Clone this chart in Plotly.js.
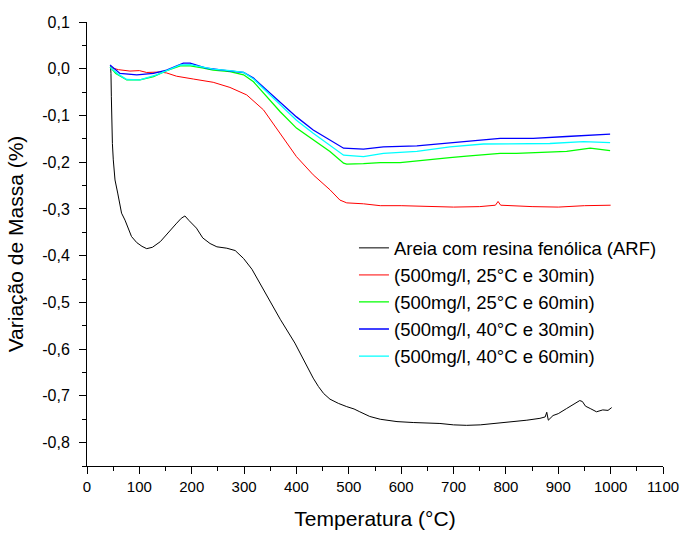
<!DOCTYPE html>
<html>
<head>
<meta charset="utf-8">
<script src="https://cdn.plot.ly/plotly-3.0.1.min.js"></script>
<style>html,body{margin:0;padding:0;background:#fff;}#chart{width:699px;height:533px;}</style>
</head>
<body>
<div id="chart"></div>
<script>
// ---- data ----
const seriesNames = [
  "Areia com resina fenólica (ARF)",
  "(500mg/l, 25°C e 30min)",
  "(500mg/l, 25°C e 60min)",
  "(500mg/l, 40°C e 30min)",
  "(500mg/l, 40°C e 60min)"
];

const arfT = [45, 45.8, 46.5, 47.2, 48.5, 50.2, 53.5, 58.6, 66, 72.6, 85, 95, 105, 114, 125, 140, 155, 170, 180, 187, 195, 209, 221, 235, 248, 267, 283, 299, 315, 340, 369, 397, 420, 432, 442, 452, 464, 480, 496, 510, 521, 540, 560, 575, 592, 623, 650, 674, 700, 725, 751, 780, 814, 840, 865, 875, 878, 881, 890, 900, 916, 930, 941, 946, 952, 961, 973, 985, 995, 1002];
const arfV = [0.005, -0.01, -0.06, -0.125, -0.16, -0.195, -0.238, -0.266, -0.309, -0.324, -0.359, -0.372, -0.38, -0.385, -0.382, -0.37, -0.35, -0.332, -0.32, -0.315, -0.325, -0.341, -0.362, -0.374, -0.381, -0.384, -0.389, -0.406, -0.429, -0.48, -0.536, -0.587, -0.637, -0.662, -0.68, -0.695, -0.707, -0.716, -0.723, -0.728, -0.734, -0.744, -0.75, -0.752, -0.755, -0.757, -0.758, -0.759, -0.762, -0.763, -0.762, -0.759, -0.755, -0.752, -0.748, -0.745, -0.735, -0.752, -0.742, -0.738, -0.727, -0.718, -0.71, -0.712, -0.722, -0.727, -0.734, -0.73, -0.731, -0.725];

const redT = [44, 60, 82, 100, 114, 139, 152, 171, 203, 241, 273, 305, 337, 369, 400, 432, 464, 483, 496, 528, 560, 600, 650, 700, 750, 780, 785, 790, 850, 900, 950, 1000];
const redV = [0.003, -0.002, -0.005, -0.004, -0.008, -0.007, -0.009, -0.016, -0.022, -0.029, -0.04, -0.056, -0.088, -0.138, -0.188, -0.227, -0.259, -0.281, -0.287, -0.289, -0.293, -0.293, -0.294, -0.296, -0.295, -0.292, -0.284, -0.292, -0.295, -0.296, -0.293, -0.292];

const greenT = [44, 55, 76, 101, 127, 152, 178, 197, 220, 241, 273, 299, 318, 343, 369, 400, 432, 464, 490, 496, 528, 560, 598, 630, 661, 693, 725, 757, 789, 820, 852, 884, 916, 961, 999];
const greenV = [0.004, -0.01, -0.024, -0.024, -0.017, -0.004, 0.006, 0.006, 0.002, -0.003, -0.006, -0.013, -0.028, -0.06, -0.092, -0.127, -0.152, -0.177, -0.202, -0.204, -0.203, -0.201, -0.201, -0.197, -0.194, -0.19, -0.187, -0.184, -0.181, -0.181, -0.18, -0.178, -0.177, -0.17, -0.175];

const blueT = [44, 63, 95, 127, 152, 184, 197, 229, 267, 299, 318, 343, 369, 400, 432, 464, 490, 528, 566, 630, 693, 757, 789, 852, 916, 960, 999];
const blueV = [0.008, -0.01, -0.013, -0.01, -0.003, 0.012, 0.012, 0.001, -0.004, -0.008, -0.02, -0.045, -0.07, -0.103, -0.131, -0.152, -0.17, -0.172, -0.167, -0.165, -0.158, -0.152, -0.149, -0.149, -0.145, -0.142, -0.14];

const cyanT = [44, 60, 76, 101, 133, 178, 197, 241, 273, 299, 318, 343, 369, 400, 432, 464, 490, 528, 566, 630, 693, 757, 820, 884, 948, 999];
const cyanV = [0.003, -0.012, -0.023, -0.024, -0.013, 0.008, 0.009, -0.001, -0.004, -0.008, -0.022, -0.049, -0.078, -0.11, -0.138, -0.163, -0.185, -0.188, -0.181, -0.177, -0.167, -0.161, -0.16, -0.16, -0.156, -0.158];

const xTickVals = [0, 100, 200, 300, 400, 500, 600, 700, 800, 900, 1000, 1100];
const yTickVals = [0.1, 0.0, -0.1, -0.2, -0.3, -0.4, -0.5, -0.6, -0.7, -0.8];
const yTickText = ["0,1", "0,0", "-0,1", "-0,2", "-0,3", "-0,4", "-0,5", "-0,6", "-0,7", "-0,8"];

const xTitle = "Temperatura (°C)";
const yTitle = "Variação de Massa (%)";

// ---- chart ----
const colors = ["#000000", "#ff0000", "#00ff00", "#0000ff", "#00ffff"];
const xs = [arfT, redT, greenT, blueT, cyanT];
const ys = [arfV, redV, greenV, blueV, cyanV];
const traces = seriesNames.map((n, i) => ({
  type: "scatter", mode: "lines", name: n, x: xs[i], y: ys[i],
  line: {color: colors[i], width: i === 0 || i === 1 ? 1 : 1.3}
}));

const FONT = "Arial, 'Liberation Sans', sans-serif";
const layout = {
  width: 699, height: 533,
  margin: {l: 87, r: 36, t: 22, b: 67},
  paper_bgcolor: "#fff", plot_bgcolor: "#fff",
  font: {family: FONT, color: "#000", size: 15},
  showlegend: true,
  legend: {
    x: 0.4635, y: 0.533, xanchor: "left", yanchor: "top",
    bgcolor: "rgba(0,0,0,0)", font: {family: FONT, size: 18.5, color: "#000"},
    tracegroupgap: 0
  },
  xaxis: {
    range: [0, 1100], tickvals: xTickVals, ticks: "outside", ticklen: 7, tickwidth: 1,
    tickcolor: "#000", showline: true, linecolor: "#000", linewidth: 1, mirror: false,
    showgrid: false, zeroline: false, tickfont: {size: 15},
    minor: {ticks: "outside", ticklen: 4, tickwidth: 1, tickcolor: "#000", dtick: 50, showgrid: false},
    title: {text: xTitle, font: {size: 21}, standoff: 17}
  },
  yaxis: {
    range: [-0.85, 0.1], tickvals: yTickVals, ticktext: yTickText, ticks: "outside", ticklen: 7, tickwidth: 1,
    tickcolor: "#000", showline: true, linecolor: "#000", linewidth: 1, mirror: false,
    showgrid: false, zeroline: false, tickfont: {size: 16}, ticklabelstandoff: 6,
    minor: {ticks: "outside", ticklen: 4, tickwidth: 1, tickcolor: "#000", dtick: 0.05, tick0: 0, showgrid: false},
    title: {text: yTitle, font: {size: 21}, standoff: 12}
  }
};

Plotly.newPlot("chart", traces, layout, {displayModeBar: false, staticPlot: true});
</script>
</body>
</html>
